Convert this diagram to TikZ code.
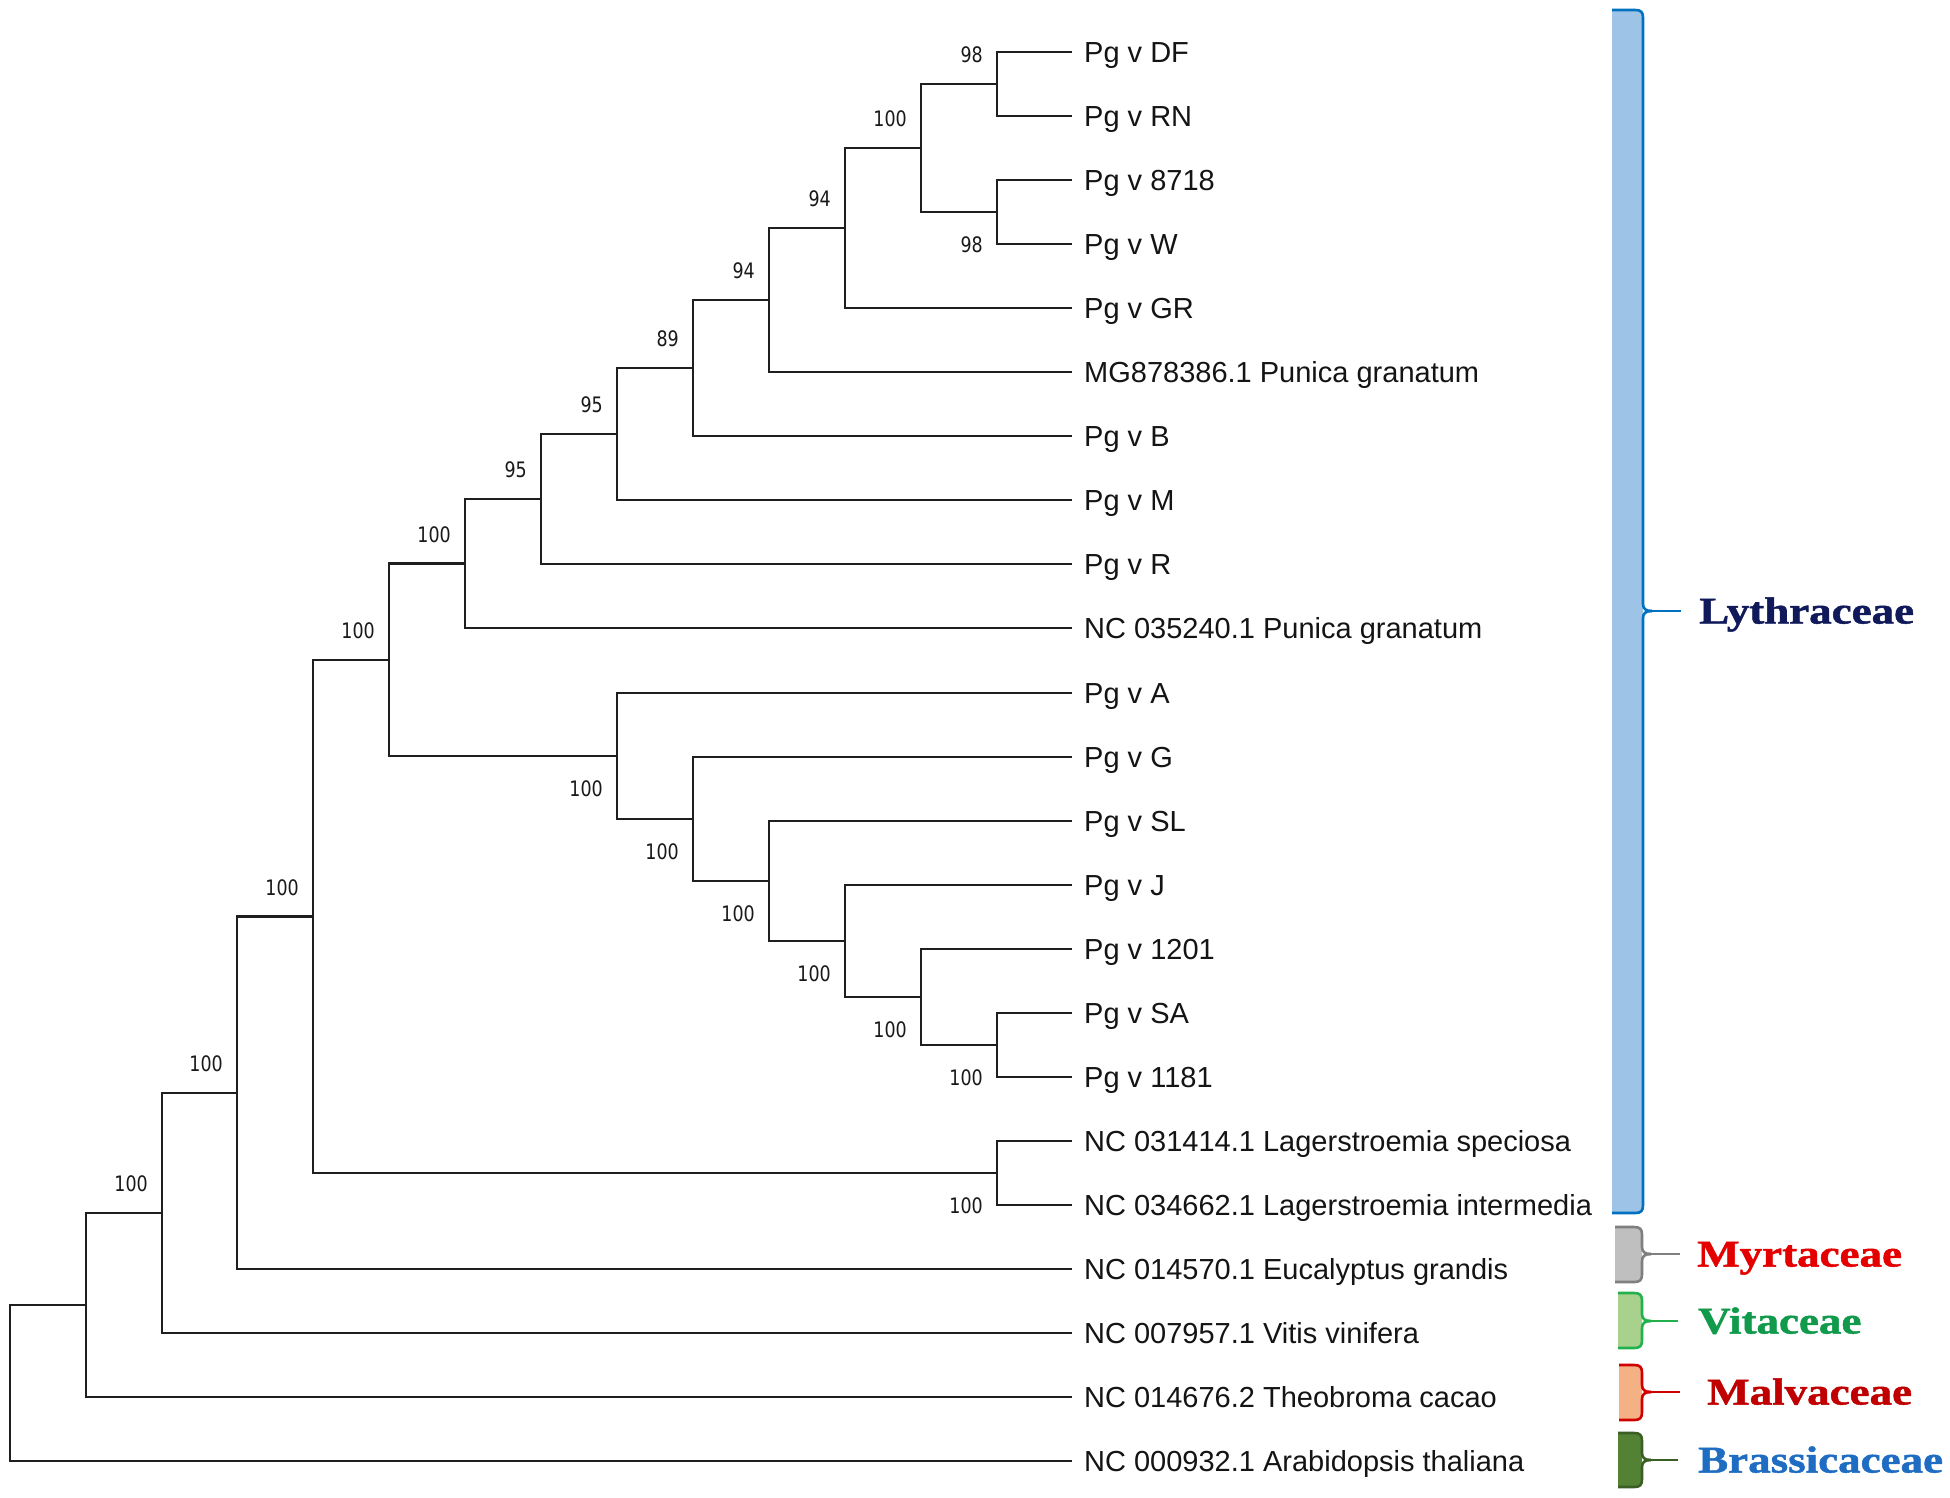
\documentclass[tikz,border=0pt]{standalone}
\usepackage{fontspec}
\setmainfont{Liberation Sans}
\newfontfamily\bsfont{DejaVu Sans}
\newfontfamily\famfont[BoldFeatures={FakeBold=1.2}]{Liberation Serif}
\usetikzlibrary{calc}
\definecolor{lythfill}{HTML}{9DC3E6}\definecolor{lythline}{HTML}{0070C0}\definecolor{lythtext}{HTML}{10195A}
\definecolor{myrtfill}{HTML}{BFBFBF}\definecolor{myrtline}{HTML}{7F7F7F}\definecolor{myrttext}{HTML}{E50000}
\definecolor{vitfill}{HTML}{A9D18E}\definecolor{vitline}{HTML}{22B14C}\definecolor{vittext}{HTML}{119A4B}
\definecolor{malfill}{HTML}{F4B183}\definecolor{malline}{HTML}{D00000}\definecolor{maltext}{HTML}{C00000}
\definecolor{brafill}{HTML}{548235}\definecolor{braline}{HTML}{3B5E25}\definecolor{bratext}{HTML}{1F6DC2}
\newcommand{\bsnum}[1]{\scalebox{0.82}[1]{#1}}
\newcommand{\famname}[1]{\scalebox{1.19}[1]{#1}}
% #1 x0, #2 x1, #3 top, #4 bottom, #5 mid, #6 tick end, #7 colour prefix
\newcommand{\famBrace}[7]{%
  \fill[#7fill] (#1,-#3) -- ({#2-8},-#3) .. controls ({#2-2},-#3) and (#2,{-#3-2}) .. (#2,{-#3-8})
    -- (#2,{-#4+8}) .. controls (#2,{-#4+2}) and ({#2-2},-#4) .. ({#2-8},-#4) -- (#1,-#4) -- cycle;
  \draw[#7line, line width=2.6pt] (#1,-#3) -- ({#2-8},-#3) .. controls ({#2-2},-#3) and (#2,{-#3-2}) .. (#2,{-#3-8})
    -- (#2,{-#5+7}) .. controls (#2,{-#5+2}) and ({#2+3},-#5) .. ({#2+9},-#5);
  \draw[#7line, line width=2.6pt] ({#2+9},-#5) .. controls ({#2+3},-#5) and (#2,{-#5-2}) .. (#2,{-#5-7})
    -- (#2,{-#4+8}) .. controls (#2,{-#4+2}) and ({#2-2},-#4) .. ({#2-8},-#4) -- (#1,-#4);
  \draw[#7line, line width=2.2pt] ({#2+8},-#5) -- (#6,-#5);
}
\begin{document}
\begin{tikzpicture}[x=1pt,y=1pt]
\tikzset{
  branch/.style={draw=black!88, line width=2.6pt},
  leaf/.style={anchor=west, inner xsep=12pt, inner ysep=0pt, text height=20.8pt, text depth=0pt,
    font=\fontsize{29}{31}\selectfont, text=black!92},
  bs/.style={anchor=east, inner sep=0pt, text height=15.5pt, text depth=0pt,
    font=\bsfont\fontsize{21.3}{22}\selectfont, text=black!90},
  fam/.style={anchor=west, inner sep=0pt, text height=25pt, text depth=0pt,
    font=\famfont\bfseries\fontsize{37.8}{40}\selectfont},
}
\fill[white] (0,0) rectangle (1950,-1497);
\useasboundingbox (0,0) rectangle (1950,-1497);

% leaves
\node[leaf] (DF) at (1072,-52) {Pg v DF};
\node[leaf] (RN) at (1072,-116) {Pg v RN};
\node[leaf] (L8718) at (1072,-180) {Pg v 8718};
\node[leaf] (W) at (1072,-244) {Pg v W};
\node[leaf] (GR) at (1072,-308) {Pg v GR};
\node[leaf] (MG) at (1072,-372) {MG878386.1 Punica granatum};
\node[leaf] (B) at (1072,-436) {Pg v B};
\node[leaf] (M) at (1072,-500) {Pg v M};
\node[leaf] (R) at (1072,-564) {Pg v R};
\node[leaf] (NCa) at (1072,-628) {NC 035240.1 Punica granatum};
\node[leaf] (A) at (1072,-693) {Pg v A};
\node[leaf] (G) at (1072,-757) {Pg v G};
\node[leaf] (SL) at (1072,-821) {Pg v SL};
\node[leaf] (J) at (1072,-885) {Pg v J};
\node[leaf] (L1201) at (1072,-949) {Pg v 1201};
\node[leaf] (SA) at (1072,-1013) {Pg v SA};
\node[leaf] (L1181) at (1072,-1077) {Pg v 1181};
\node[leaf] (LS) at (1072,-1141) {NC 031414.1 Lagerstroemia speciosa};
\node[leaf] (LI) at (1072,-1205) {NC 034662.1 Lagerstroemia intermedia};
\node[leaf] (EG) at (1072,-1269) {NC 014570.1 Eucalyptus grandis};
\node[leaf] (VV) at (1072,-1333) {NC 007957.1 Vitis vinifera};
\node[leaf] (TC) at (1072,-1397) {NC 014676.2 Theobroma cacao};
\node[leaf] (AT) at (1072,-1461) {NC 000932.1 Arabidopsis thaliana};

% internal nodes
\coordinate (n1) at (997,-84);
\coordinate (n2) at (997,-212);
\coordinate (n3) at (921,-148);
\coordinate (n4) at (845,-228);
\coordinate (n5) at (769,-300);
\coordinate (n6) at (693,-368);
\coordinate (n7) at (617,-434);
\coordinate (n8) at (541,-499);
\coordinate (n9) at (465,-563.5);
\coordinate (m1) at (997,-1045);
\coordinate (m2) at (921,-997);
\coordinate (m3) at (845,-941);
\coordinate (m4) at (769,-881);
\coordinate (m5) at (693,-819);
\coordinate (m6) at (617,-756);
\coordinate (p) at (389,-660);
\coordinate (lag) at (997,-1173);
\coordinate (q) at (313,-916.5);
\coordinate (r) at (237,-1093);
\coordinate (s) at (162,-1213);
\coordinate (t) at (86,-1305);
\coordinate (root) at (10,-1383);

% branches
\draw[branch] (n1) |- (DF.west) (n1) |- (RN.west);
\draw[branch] (n2) |- (L8718.west) (n2) |- (W.west);
\draw[branch] (n3) |- (n1) (n3) |- (n2);
\draw[branch] (n4) |- (n3) (n4) |- (GR.west);
\draw[branch] (n5) |- (n4) (n5) |- (MG.west);
\draw[branch] (n6) |- (n5) (n6) |- (B.west);
\draw[branch] (n7) |- (n6) (n7) |- (M.west);
\draw[branch] (n8) |- (n7) (n8) |- (R.west);
\draw[branch] (n9) |- (n8) (n9) |- (NCa.west);
\draw[branch] (m1) |- (SA.west) (m1) |- (L1181.west);
\draw[branch] (m2) |- (L1201.west) (m2) |- (m1);
\draw[branch] (m3) |- (J.west) (m3) |- (m2);
\draw[branch] (m4) |- (SL.west) (m4) |- (m3);
\draw[branch] (m5) |- (G.west) (m5) |- (m4);
\draw[branch] (m6) |- (A.west) (m6) |- (m5);
\draw[branch] (p) |- (n9) (p) |- (m6);
\draw[branch] (lag) |- (LS.west) (lag) |- (LI.west);
\draw[branch] (q) |- (p) (q) |- (lag);
\draw[branch] (r) |- (q) (r) |- (EG.west);
\draw[branch] (s) |- (r) (s) |- (VV.west);
\draw[branch] (t) |- (s) (t) |- (TC.west);
\draw[branch] (root) |- (t) (root) |- (AT.west);

% bootstrap values (above the stem)
\node[bs] (bn1) at ($(n1)+(-14,29)$) {\bsnum{98}};
\node[bs] (bn3) at ($(n3)+(-14,29)$) {\bsnum{100}};
\node[bs] (bn4) at ($(n4)+(-14,29)$) {\bsnum{94}};
\node[bs] (bn5) at ($(n5)+(-14,29)$) {\bsnum{94}};
\node[bs] (bn6) at ($(n6)+(-14,29)$) {\bsnum{89}};
\node[bs] (bn7) at ($(n7)+(-14,29)$) {\bsnum{95}};
\node[bs] (bn8) at ($(n8)+(-14,29)$) {\bsnum{95}};
\node[bs] (bn9) at ($(n9)+(-14,29)$) {\bsnum{100}};
\node[bs] (bp) at ($(p)+(-14,29)$) {\bsnum{100}};
\node[bs] (bq) at ($(q)+(-14,29)$) {\bsnum{100}};
\node[bs] (br) at ($(r)+(-14,29)$) {\bsnum{100}};
\node[bs] (bs) at ($(s)+(-14,29)$) {\bsnum{100}};
% bootstrap values (below the stem)
\node[bs] (bn2) at ($(n2)+(-14,-33)$) {\bsnum{98}};
\node[bs] (bm1) at ($(m1)+(-14,-33)$) {\bsnum{100}};
\node[bs] (bm2) at ($(m2)+(-14,-33)$) {\bsnum{100}};
\node[bs] (bm3) at ($(m3)+(-14,-33)$) {\bsnum{100}};
\node[bs] (bm4) at ($(m4)+(-14,-33)$) {\bsnum{100}};
\node[bs] (bm5) at ($(m5)+(-14,-33)$) {\bsnum{100}};
\node[bs] (bm6) at ($(m6)+(-14,-33)$) {\bsnum{100}};
\node[bs] (blag) at ($(lag)+(-14,-33)$) {\bsnum{100}};

% family brackets
\famBrace{1612}{1643}{10}{1213}{611}{1681}{lyth}
\famBrace{1615}{1642}{1227}{1282}{1254}{1680}{myrt}
\famBrace{1618}{1642}{1293}{1348}{1321}{1678}{vit}
\famBrace{1619}{1642}{1365}{1420}{1392}{1680}{mal}
\famBrace{1618}{1642}{1433}{1487}{1460}{1678}{bra}

% family names
\node[fam, text=lythtext] (Lyth) at (1699,-611) {\famname{Lythraceae}};
\node[fam, text=myrttext] (Myrt) at (1697,-1254) {\famname{Myrtaceae}};
\node[fam, text=vittext] (Vit) at (1698,-1321) {\famname{Vitaceae}};
\node[fam, text=maltext] (Mal) at (1707,-1392) {\famname{Malvaceae}};
\node[fam, text=bratext] (Bra) at (1698,-1460) {\famname{Brassicaceae}};
\end{tikzpicture}
\end{document}
